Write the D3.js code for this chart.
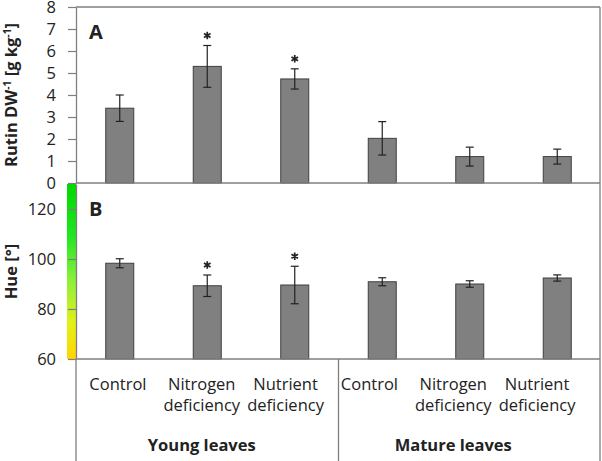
<!DOCTYPE html>
<html><head><meta charset="utf-8">
<script src="https://cdn.jsdelivr.net/npm/d3@7"></script>
<style>body{margin:0;background:#fff}svg{display:block}text{font-family:"Open Sans",sans-serif;fill:#222}</style>
</head><body><svg id="c" width="602" height="461"></svg>
<script>
const categories = ["Control","Nitrogen deficiency","Nutrient deficiency","Control","Nitrogen deficiency","Nutrient deficiency"];
const categoryLines = [["Control"],["Nitrogen","deficiency"],["Nutrient","deficiency"],["Control"],["Nitrogen","deficiency"],["Nutrient","deficiency"]];
const groups = ["Young leaves","Mature leaves"];
const rutin = [3.4, 5.3, 4.73, 2.03, 1.2, 1.2];
const rutinErr = [0.6, 0.95, 0.46, 0.76, 0.43, 0.34];
const rutinSig = [false, true, true, false, false, false];
const hue = [98.3, 89.3, 89.6, 90.9, 90.0, 92.4];
const hueErr = [1.8, 4.3, 7.5, 1.6, 1.3, 1.25];
const hueSig = [false, true, true, false, false, false];
const rutinTicks = [0,1,2,3,4,5,6,7,8];
const hueTicks = [60,80,100,120];

const svg = d3.select("#c");
const idx = d3.range(categories.length);
const x = d3.scaleBand().domain(idx).range([76, 601]).paddingInner(0.68).paddingOuter(0.34);
const xl = d3.scaleBand().domain(idx).range([76, 579]);
const yA = d3.scaleLinear().domain([0, 8]).range([183, 7]);
const yB = d3.scaleLinear().domain([60, 130]).range([359, 184]);
const axisCol = "#7f7f7f";
const fs = 16.5;

// color bar
const defs = svg.append("defs");
const g = defs.append("linearGradient").attr("id","hg").attr("x1",0).attr("x2",0).attr("y1",0).attr("y2",1);
[[0,"#00d800"],[0.3,"#22e622"],[0.55,"#8cf03a"],[0.8,"#e4f018"],[1,"#ffd400"]].forEach(s=>g.append("stop").attr("offset",s[0]).attr("stop-color",s[1]));
svg.append("rect").attr("x",67).attr("y",yB(130)).attr("width",9).attr("height",yB(60)-yB(130)).attr("fill","url(#hg)");

// frame
svg.append("line").attr("x1",76).attr("x2",600).attr("y1",yA(8)).attr("y2",yA(8)).attr("stroke",axisCol).attr("stroke-width",1.3);
svg.append("line").attr("x1",600).attr("x2",600).attr("y1",yA(8)).attr("y2",461).attr("stroke",axisCol).attr("stroke-width",1.3);

function panel(y, vals, errs, sig, ticks, label, titleTspans){
  const ax = svg.append("g").attr("transform","translate(76,0)").call(d3.axisLeft(y).tickValues(ticks).tickSize(8).tickPadding(12).tickSizeOuter(0));
  ax.select(".domain").attr("stroke",axisCol).attr("stroke-width",1.3);
  ax.selectAll(".tick line").attr("stroke",axisCol).attr("stroke-width",1.2);
  ax.selectAll(".tick text").attr("font-size",fs).attr("font-family","Open Sans").attr("fill","#222");
  svg.selectAll(null).data(idx).enter().append("rect")
    .attr("x",i=>x(i)).attr("width",x.bandwidth())
    .attr("y",i=>y(vals[i])).attr("height",i=>y.range()[0]-y(vals[i]))
    .attr("fill","#808080").attr("stroke","#3f3f3f").attr("stroke-width",1);
  svg.append("line").attr("x1",76).attr("x2",600).attr("y1",y.range()[0]).attr("y2",y.range()[0]).attr("stroke",axisCol).attr("stroke-width",1.3);
  const eb = svg.selectAll(null).data(idx).enter().append("g").attr("stroke","#222").attr("stroke-width",1.2);
  const cx = i=>x(i)+x.bandwidth()/2;
  eb.append("line").attr("x1",cx).attr("x2",cx).attr("y1",i=>y(vals[i]+errs[i])).attr("y2",i=>y(vals[i]-errs[i]));
  eb.append("line").attr("x1",i=>cx(i)-4).attr("x2",i=>cx(i)+4).attr("y1",i=>y(vals[i]+errs[i])).attr("y2",i=>y(vals[i]+errs[i]));
  eb.append("line").attr("x1",i=>cx(i)-4).attr("x2",i=>cx(i)+4).attr("y1",i=>y(vals[i]-errs[i])).attr("y2",i=>y(vals[i]-errs[i]));
  svg.selectAll(null).data(idx.filter(i=>sig[i])).enter().append("path")
    .attr("d",d3.symbol(d3.symbolAsterisk,40))
    .attr("transform",i=>`translate(${cx(i)},${y(vals[i]+errs[i])-10})`)
    .attr("fill","none").attr("stroke","#222").attr("stroke-width",1.7);
  svg.append("text").attr("x",89).attr("y",y.range()[1]+32).attr("font-size",20).attr("font-weight","bold").text(label);
  const t = svg.append("text").attr("transform",`translate(17,${(y.range()[0]+y.range()[1])/2}) rotate(-90)`)
    .attr("text-anchor","middle").attr("font-size",fs).attr("font-weight","bold");
  titleTspans.forEach(p=>{ const s=t.append("tspan").text(p[0]); if(p[1]){s.attr("font-size",fs*0.62).attr("dy",-6);} else if(p[2]){s.attr("dy",6);} });
}
panel(yA, rutin, rutinErr, rutinSig, rutinTicks, "A", [["Rutin DW"],["-1",true],[" [g kg",false,true],["-1",true],["]",false,true]]);
panel(yB, hue, hueErr, hueSig, hueTicks, "B", [["Hue [°]"]]);

// category labels
const cl = svg.selectAll(null).data(idx).enter().append("text")
  .attr("text-anchor","middle").attr("font-size",fs);
cl.each(function(i){
  const el=d3.select(this);
  categoryLines[i].forEach((l,k)=>el.append("tspan").attr("x",xl(i)+xl.bandwidth()/2).attr("y",390+k*21).text(l));
});
// separators
[0,3].forEach(i=>svg.append("line").attr("x1",x(i)-x.step()*0.34).attr("x2",x(i)-x.step()*0.34).attr("y1",359).attr("y2",461).attr("stroke",axisCol).attr("stroke-width",1.3));
groups.forEach((gname,k)=>{
  const mid = xl(k*3+1)+xl.bandwidth()/2;
  svg.append("text").attr("x",mid).attr("y",451).attr("text-anchor","middle").attr("font-size",fs).attr("font-weight","bold").text(gname);
});
</script></body></html>
